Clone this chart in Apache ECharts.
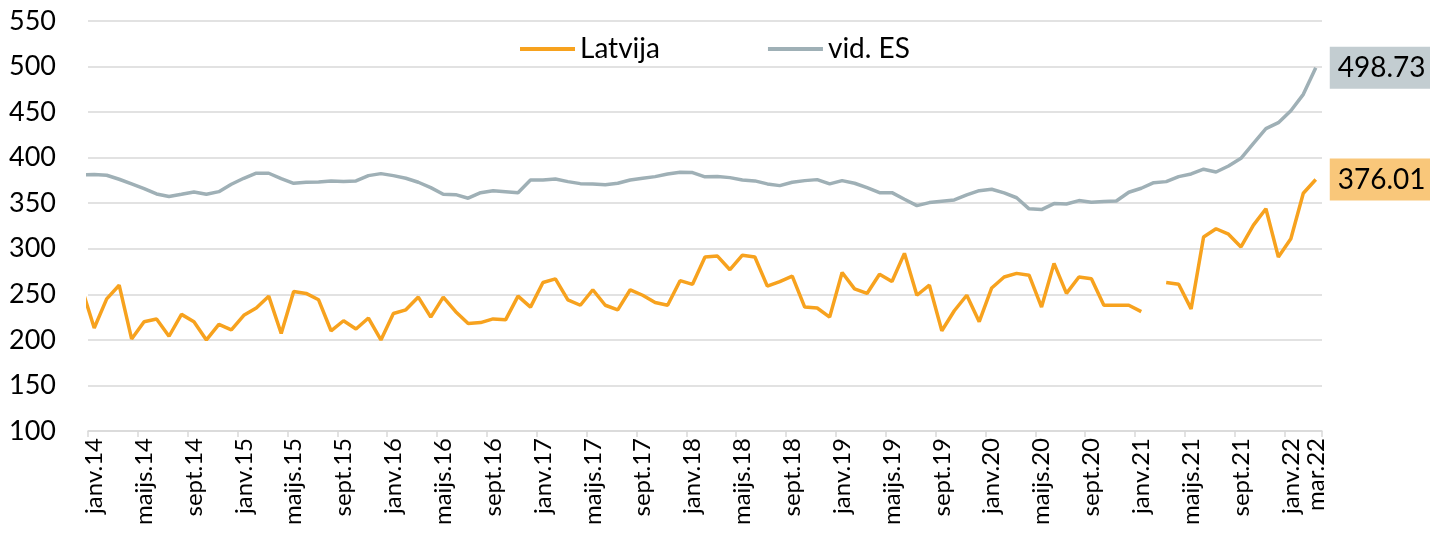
<!DOCTYPE html>
<html>
<head>
<meta charset="utf-8">
<script src="https://cdn.jsdelivr.net/npm/echarts@6/dist/echarts.min.js"></script>
<style>
  html, body { margin: 0; padding: 0; background: #fff; }
  #chart { width: 1430px; height: 535px; }
</style>
</head>
<body>
<div id="chart"></div>
<script>
// month labels; the series start one month early (dec.13), which is cut off by the axis min
const monthNames = ["janv.", "febr.", "mar.", "apr.", "maijs.", "jūn.", "jūl.", "aug.", "sept.", "okt.", "nov.", "dec."];
const years = ["14", "15", "16", "17", "18", "19", "20", "21", "22"];

const categories = ["dec.13"];
years.forEach((y) => {
  monthNames.forEach((m, k) => {
    if (y === "22" && k > 2) return;
    categories.push(m + y);
  });
});

const latvija = [
  257,
  213, 245, 260, 201, 220, 223, 204, 228, 220, 200, 217, 211,
  227, 235, 248, 207, 253, 251, 244, 210, 221, 212, 224, 200,
  229, 233, 247, 225, 247, 231, 218, 219, 223, 222, 248, 236,
  263, 267, 244, 238, 255, 238, 233, 255, 249, 241, 238, 265,
  261, 291, 292, 277, 293, 291, 259, 264, 270, 236, 235, 225,
  274, 256, 251, 272, 264, 295, 249, 260, 210, 232, 249, 220,
  257, 269, 273, 271, 236, 284, 251, 269, 267, 238, 238, 238,
  231, null, 263, 261, 234, 313, 322, 316, 302, 326, 344, 291,
  311, 361, 376.01
];

const vidES = [
  381,
  381.4, 380.7, 376.3, 371.2, 366.0, 360.2, 357.3, 359.8, 362.4, 359.8, 362.7, 370.8,
  377.4, 382.9, 382.9, 377.0, 371.9, 373.0, 373.4, 374.5, 373.8, 374.5, 380.3, 382.5,
  380.3, 377.4, 373.0, 367.1, 359.8, 359.4, 355.5, 361.6, 363.8, 362.7, 361.6, 375.5,
  375.5, 376.6, 373.7, 371.5, 371.1, 370.4, 371.9, 375.5, 377.4, 379.2, 382.1, 384.0,
  383.6, 379.0, 379.2, 378.1, 375.5, 374.5, 371.2, 369.3, 373.0, 374.8, 375.9, 371.2,
  374.8, 371.9, 367.1, 361.6, 361.6, 354.4, 347.4, 350.7, 352.2, 353.6, 359.1, 363.8,
  365.3, 361.3, 356.0, 343.8, 343.0, 349.6, 349.2, 352.9, 351.1, 351.8, 352.5, 362.0,
  366.4, 372.6, 373.7, 379.2, 382.1, 387.3, 384.3, 390.9, 399.3, 415.8, 431.8, 438.4,
  451.5, 469.5, 498.73
];

const FONT = "Lato";
const chart = echarts.init(document.getElementById("chart"));

const showLabel = (i) => (i - 1) % 4 === 0 || i === categories.length - 1;
const showTick = (i) => (i - 1) % 4 === 0;

chart.setOption({
  animation: false,
  textStyle: { fontFamily: FONT },
  grid: { left: 88, right: 108, top: 21, bottom: 104 },
  legend: {
    left: 515,
    top: 30,
    icon: "rect",
    itemWidth: 55,
    itemHeight: 4,
    itemGap: 108,
    textStyle: { fontSize: 28, color: "#000", fontFamily: FONT },
    data: ["Latvija", "vid. ES"]
  },
  xAxis: {
    type: "category",
    data: categories,
    boundaryGap: true,
    min: 1,
    axisLine: { lineStyle: { color: "#d9d9d9", width: 1.5 } },
    axisTick: { show: true, interval: showTick, length: 6, lineStyle: { color: "#d9d9d9", width: 1.5 } },
    axisLabel: {
      interval: showLabel,
      rotate: 90,
      margin: 7,
      fontSize: 24,
      color: "#000",
      fontFamily: FONT
    },
    splitLine: { show: false }
  },
  yAxis: {
    type: "value",
    min: 100,
    max: 550,
    interval: 50,
    axisLine: { show: false },
    axisTick: { show: false },
    axisLabel: { fontSize: 27, color: "#000", margin: 32, fontFamily: FONT },
    splitLine: { lineStyle: { color: "#d9d9d9", width: 1.5 } }
  },
  series: [
    {
      name: "Latvija",
      type: "line",
      data: latvija,
      symbol: "none",
      connectNulls: false,
      clip: true,
      color: "#f7a21e",
      lineStyle: { width: 3.5, color: "#f7a21e" },
      endLabel: {
        show: true,
        formatter: (p) => p.value,
        distance: 14,
        fontSize: 28,
        color: "#000",
        fontFamily: FONT,
        backgroundColor: "#f9c77a",
        padding: [7, 10, 7, 8]
      }
    },
    {
      name: "vid. ES",
      type: "line",
      data: vidES,
      symbol: "none",
      clip: true,
      color: "#9fb0b6",
      lineStyle: { width: 3.5, color: "#9fb0b6" },
      endLabel: {
        show: true,
        formatter: (p) => p.value,
        distance: 14,
        fontSize: 28,
        color: "#000",
        fontFamily: FONT,
        backgroundColor: "#c3cdd1",
        padding: [7, 10, 7, 8]
      }
    }
  ]
});
</script>
</body>
</html>
